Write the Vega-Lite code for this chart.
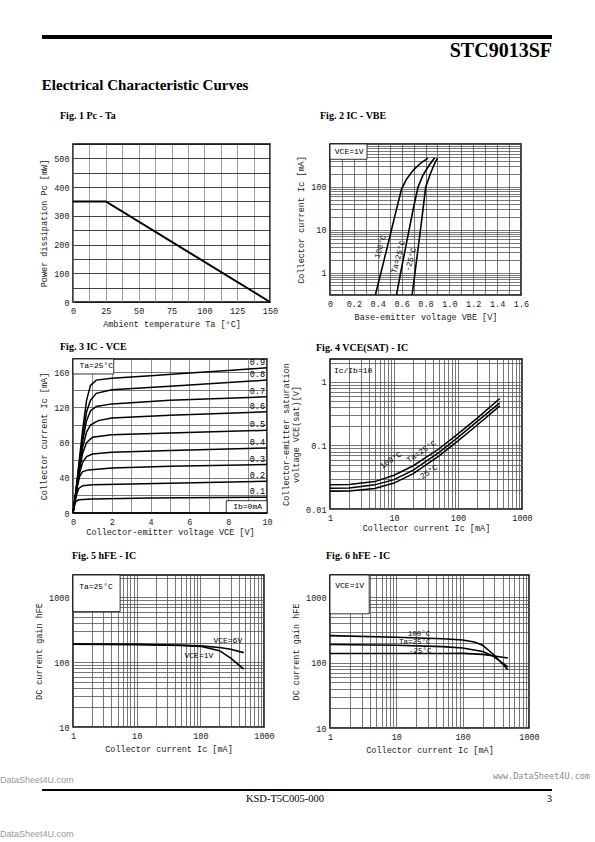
{
  "$schema": "https://vega.github.io/schema/vega-lite/v6.json",
  "background": "white",
  "padding": {"left": 0, "top": 35, "right": 0, "bottom": 0},
  "config": {
    "font": "Liberation Mono",
    "view": {"stroke": "black", "strokeWidth": 1.5},
    "axis": {"domain": false, "ticks": false, "grid": true, "gridColor": "#555", "gridWidth": 0.8, "labelFont": "Liberation Mono", "labelFontSize": 8.5, "labelColor": "#222", "labelPadding": 4, "titleFont": "Liberation Mono", "titleFontSize": 8.5, "titleFontWeight": "normal", "titleColor": "#222", "titlePadding": 5, "labelOverlap": false, "labelFlush": false, "labelBound": false},
    "title": {"font": "Liberation Serif", "fontSize": 10, "fontWeight": "bold", "anchor": "start", "frame": "group", "color": "black"},
    "text": {"font": "Liberation Mono", "fontSize": 8, "color": "black", "baseline": "middle"},
    "line": {"color": "black", "strokeWidth": 1.5}
  },
  "datasets": {
    "rules": [{"id": "header"}, {"id": "footer"}],
    "foot": [
      {"id": "code", "t": "KSD-T5C005-000"},
      {"id": "page", "t": "3"},
      {"id": "wr", "t": "www.DataSheet4U.com"},
      {"id": "wl", "t": "DataSheet4U.com"},
      {"id": "wb", "t": "DataSheet4U.com"}
    ],
    "fig1": [{"ta": 0, "pc": 350}, {"ta": 25, "pc": 350}, {"ta": 150, "pc": 0}],
    "fig2": [
      {"curve": "100°C", "vbe": 0.38, "ic": 0.3}, {"curve": "100°C", "vbe": 0.44, "ic": 1.4}, {"curve": "100°C", "vbe": 0.5, "ic": 6.7}, {"curve": "100°C", "vbe": 0.55, "ic": 25}, {"curve": "100°C", "vbe": 0.6, "ic": 90}, {"curve": "100°C", "vbe": 0.64, "ic": 150}, {"curve": "100°C", "vbe": 0.7, "ic": 250}, {"curve": "100°C", "vbe": 0.76, "ic": 360}, {"curve": "100°C", "vbe": 0.82, "ic": 470},
      {"curve": "25°C", "vbe": 0.557, "ic": 0.3}, {"curve": "25°C", "vbe": 0.6, "ic": 1.3}, {"curve": "25°C", "vbe": 0.65, "ic": 6.6}, {"curve": "25°C", "vbe": 0.7, "ic": 33}, {"curve": "25°C", "vbe": 0.738, "ic": 100}, {"curve": "25°C", "vbe": 0.78, "ic": 190}, {"curve": "25°C", "vbe": 0.83, "ic": 320}, {"curve": "25°C", "vbe": 0.877, "ic": 480},
      {"curve": "-25°C", "vbe": 0.688, "ic": 0.3}, {"curve": "-25°C", "vbe": 0.72, "ic": 1.5}, {"curve": "-25°C", "vbe": 0.76, "ic": 11}, {"curve": "-25°C", "vbe": 0.802, "ic": 100}, {"curve": "-25°C", "vbe": 0.84, "ic": 200}, {"curve": "-25°C", "vbe": 0.87, "ic": 320}, {"curve": "-25°C", "vbe": 0.9, "ic": 470}
    ],
    "lab2": [{"text": "100°C", "vbe": 0.425, "ic": 4}, {"text": "Ta=25°C", "vbe": 0.575, "ic": 2.3}, {"text": "-25°C", "vbe": 0.68, "ic": 2.0}],
    "note2": [{"text": "VCE=1V", "vbe": 0.04, "ic": 640}],
    "box2": [{"vbe": 0, "vbe2": 0.31, "ic": 440, "ic2": 1000}],
    "fig3": [
      {"ib": "0.9", "vce": 0, "ic": 0}, {"ib": "0.9", "vce": 0.15, "ic": 25}, {"ib": "0.9", "vce": 0.3, "ic": 55}, {"ib": "0.9", "vce": 0.5, "ic": 95}, {"ib": "0.9", "vce": 0.7, "ic": 128}, {"ib": "0.9", "vce": 0.9, "ic": 145}, {"ib": "0.9", "vce": 1.2, "ic": 151}, {"ib": "0.9", "vce": 2, "ic": 153}, {"ib": "0.9", "vce": 4, "ic": 156}, {"ib": "0.9", "vce": 6, "ic": 159}, {"ib": "0.9", "vce": 8, "ic": 162}, {"ib": "0.9", "vce": 10, "ic": 165},
      {"ib": "0.8", "vce": 0, "ic": 0}, {"ib": "0.8", "vce": 0.15, "ic": 25}, {"ib": "0.8", "vce": 0.3, "ic": 52}, {"ib": "0.8", "vce": 0.5, "ic": 88}, {"ib": "0.8", "vce": 0.7, "ic": 115}, {"ib": "0.8", "vce": 0.9, "ic": 128}, {"ib": "0.8", "vce": 1.2, "ic": 136}, {"ib": "0.8", "vce": 2, "ic": 140}, {"ib": "0.8", "vce": 5, "ic": 144}, {"ib": "0.8", "vce": 10, "ic": 151},
      {"ib": "0.7", "vce": 0, "ic": 0}, {"ib": "0.7", "vce": 0.15, "ic": 24}, {"ib": "0.7", "vce": 0.3, "ic": 50}, {"ib": "0.7", "vce": 0.5, "ic": 82}, {"ib": "0.7", "vce": 0.7, "ic": 105}, {"ib": "0.7", "vce": 0.9, "ic": 116}, {"ib": "0.7", "vce": 1.2, "ic": 121}, {"ib": "0.7", "vce": 2, "ic": 124}, {"ib": "0.7", "vce": 5, "ic": 128}, {"ib": "0.7", "vce": 10, "ic": 132},
      {"ib": "0.6", "vce": 0, "ic": 0}, {"ib": "0.6", "vce": 0.15, "ic": 23}, {"ib": "0.6", "vce": 0.3, "ic": 48}, {"ib": "0.6", "vce": 0.5, "ic": 75}, {"ib": "0.6", "vce": 0.7, "ic": 92}, {"ib": "0.6", "vce": 0.9, "ic": 100}, {"ib": "0.6", "vce": 1.3, "ic": 105}, {"ib": "0.6", "vce": 2, "ic": 108}, {"ib": "0.6", "vce": 5, "ic": 111}, {"ib": "0.6", "vce": 10, "ic": 115},
      {"ib": "0.5", "vce": 0, "ic": 0}, {"ib": "0.5", "vce": 0.15, "ic": 22}, {"ib": "0.5", "vce": 0.3, "ic": 45}, {"ib": "0.5", "vce": 0.5, "ic": 68}, {"ib": "0.5", "vce": 0.7, "ic": 80}, {"ib": "0.5", "vce": 1.0, "ic": 86}, {"ib": "0.5", "vce": 2, "ic": 89}, {"ib": "0.5", "vce": 5, "ic": 91}, {"ib": "0.5", "vce": 10, "ic": 94},
      {"ib": "0.4", "vce": 0, "ic": 0}, {"ib": "0.4", "vce": 0.15, "ic": 20}, {"ib": "0.4", "vce": 0.3, "ic": 42}, {"ib": "0.4", "vce": 0.5, "ic": 58}, {"ib": "0.4", "vce": 0.7, "ic": 64}, {"ib": "0.4", "vce": 1, "ic": 67}, {"ib": "0.4", "vce": 2, "ic": 69}, {"ib": "0.4", "vce": 5, "ic": 71}, {"ib": "0.4", "vce": 10, "ic": 74},
      {"ib": "0.3", "vce": 0, "ic": 0}, {"ib": "0.3", "vce": 0.1, "ic": 15}, {"ib": "0.3", "vce": 0.2, "ic": 28}, {"ib": "0.3", "vce": 0.35, "ic": 42}, {"ib": "0.3", "vce": 0.5, "ic": 47}, {"ib": "0.3", "vce": 0.8, "ic": 49}, {"ib": "0.3", "vce": 2, "ic": 51}, {"ib": "0.3", "vce": 5, "ic": 53}, {"ib": "0.3", "vce": 10, "ic": 55},
      {"ib": "0.2", "vce": 0, "ic": 0}, {"ib": "0.2", "vce": 0.1, "ic": 12}, {"ib": "0.2", "vce": 0.2, "ic": 22}, {"ib": "0.2", "vce": 0.3, "ic": 28}, {"ib": "0.2", "vce": 0.5, "ic": 31}, {"ib": "0.2", "vce": 1, "ic": 32}, {"ib": "0.2", "vce": 3, "ic": 33}, {"ib": "0.2", "vce": 10, "ic": 36},
      {"ib": "0.1", "vce": 0, "ic": 0}, {"ib": "0.1", "vce": 0.07, "ic": 8}, {"ib": "0.1", "vce": 0.15, "ic": 13}, {"ib": "0.1", "vce": 0.3, "ic": 15}, {"ib": "0.1", "vce": 1, "ic": 16}, {"ib": "0.1", "vce": 4, "ic": 17}, {"ib": "0.1", "vce": 10, "ic": 18},
      {"ib": "0", "vce": 0, "ic": 0}, {"ib": "0", "vce": 10, "ic": 0}
    ],
    "note3": [{"text": "Ta=25°C", "vce": 1.2, "ic": 167}, {"text": "Ib=0mA", "vce": 9.0, "ic": 6.5}],
    "box3": [{"vce": 0, "vce2": 2.1, "ic": 158, "ic2": 175}, {"vce": 7.9, "vce2": 10, "ic": 0, "ic2": 14}],
    "fig4": [
      {"curve": "100°C", "ic": 1, "v": 0.024}, {"curve": "100°C", "ic": 2, "v": 0.0243}, {"curve": "100°C", "ic": 5, "v": 0.027}, {"curve": "100°C", "ic": 10, "v": 0.034}, {"curve": "100°C", "ic": 20, "v": 0.048}, {"curve": "100°C", "ic": 50, "v": 0.088}, {"curve": "100°C", "ic": 100, "v": 0.152}, {"curve": "100°C", "ic": 200, "v": 0.27}, {"curve": "100°C", "ic": 450, "v": 0.55},
      {"curve": "25°C", "ic": 1, "v": 0.0212}, {"curve": "25°C", "ic": 2, "v": 0.0215}, {"curve": "25°C", "ic": 5, "v": 0.024}, {"curve": "25°C", "ic": 10, "v": 0.029}, {"curve": "25°C", "ic": 20, "v": 0.041}, {"curve": "25°C", "ic": 50, "v": 0.077}, {"curve": "25°C", "ic": 100, "v": 0.134}, {"curve": "25°C", "ic": 200, "v": 0.24}, {"curve": "25°C", "ic": 450, "v": 0.47},
      {"curve": "-25°C", "ic": 1, "v": 0.019}, {"curve": "-25°C", "ic": 2, "v": 0.0192}, {"curve": "-25°C", "ic": 5, "v": 0.021}, {"curve": "-25°C", "ic": 10, "v": 0.0256}, {"curve": "-25°C", "ic": 20, "v": 0.036}, {"curve": "-25°C", "ic": 50, "v": 0.068}, {"curve": "-25°C", "ic": 100, "v": 0.118}, {"curve": "-25°C", "ic": 200, "v": 0.21}, {"curve": "-25°C", "ic": 450, "v": 0.42}
    ],
    "lab4": [{"text": "100°C", "ic": 9, "v": 0.058}, {"text": "Ta=25°C", "ic": 27, "v": 0.079}, {"text": "-25°C", "ic": 33, "v": 0.036}],
    "note4": [{"text": "Ic/Ib=10", "ic": 1.15, "v": 1.5}],
    "fig5": [
      {"curve": "VCE=6V", "ic": 1, "hfe": 190}, {"curve": "VCE=6V", "ic": 10, "hfe": 188}, {"curve": "VCE=6V", "ic": 50, "hfe": 182}, {"curve": "VCE=6V", "ic": 100, "hfe": 178}, {"curve": "VCE=6V", "ic": 200, "hfe": 168}, {"curve": "VCE=6V", "ic": 300, "hfe": 158}, {"curve": "VCE=6V", "ic": 480, "hfe": 140},
      {"curve": "VCE=1V", "ic": 1, "hfe": 188}, {"curve": "VCE=1V", "ic": 10, "hfe": 186}, {"curve": "VCE=1V", "ic": 50, "hfe": 181}, {"curve": "VCE=1V", "ic": 100, "hfe": 175}, {"curve": "VCE=1V", "ic": 200, "hfe": 150}, {"curve": "VCE=1V", "ic": 300, "hfe": 115}, {"curve": "VCE=1V", "ic": 480, "hfe": 78}
    ],
    "lab5": [{"text": "VCE=6V", "ic": 270, "hfe": 212}, {"text": "VCE=1V", "ic": 95, "hfe": 124}],
    "note5": [{"text": "Ta=25°C", "ic": 1.25, "hfe": 1450}],
    "box5": [{"ic": 1, "ic2": 5.5, "hfe": 600, "hfe2": 2200}],
    "fig6": [
      {"curve": "100°C", "ic": 1, "hfe": 260}, {"curve": "100°C", "ic": 10, "hfe": 245}, {"curve": "100°C", "ic": 50, "hfe": 232}, {"curve": "100°C", "ic": 100, "hfe": 222}, {"curve": "100°C", "ic": 150, "hfe": 208}, {"curve": "100°C", "ic": 200, "hfe": 185}, {"curve": "100°C", "ic": 300, "hfe": 130}, {"curve": "100°C", "ic": 480, "hfe": 78},
      {"curve": "25°C", "ic": 1, "hfe": 190}, {"curve": "25°C", "ic": 10, "hfe": 185}, {"curve": "25°C", "ic": 50, "hfe": 176}, {"curve": "25°C", "ic": 100, "hfe": 168}, {"curve": "25°C", "ic": 200, "hfe": 148}, {"curve": "25°C", "ic": 280, "hfe": 128}, {"curve": "25°C", "ic": 480, "hfe": 86},
      {"curve": "-25°C", "ic": 1, "hfe": 138}, {"curve": "-25°C", "ic": 10, "hfe": 138}, {"curve": "-25°C", "ic": 50, "hfe": 138}, {"curve": "-25°C", "ic": 100, "hfe": 139}, {"curve": "-25°C", "ic": 200, "hfe": 134}, {"curve": "-25°C", "ic": 280, "hfe": 128}, {"curve": "-25°C", "ic": 480, "hfe": 118}
    ],
    "lab6": [{"text": "100°C", "ic": 22, "hfe": 276}, {"text": "Ta=25°C", "ic": 19, "hfe": 206}, {"text": "-25°C", "ic": 23, "hfe": 152}],
    "note6": [{"text": "VCE=1V", "ic": 1.2, "hfe": 1480}],
    "box6": [{"ic": 1, "ic2": 3.9, "hfe": 560, "hfe2": 2200}]
  },
  "spacing": 17,
  "vconcat": [
    {
      "width": 479, "height": 4,
      "view": {"stroke": null},
      "title": {"text": "STC9013SF", "orient": "bottom", "anchor": "end", "frame": "group", "font": "Liberation Serif", "fontSize": 20, "fontWeight": "bold", "offset": 2},
      "data": {"name": "rules"},
      "transform": [{"filter": "datum.id == 'header'"}],
      "mark": {"type": "rect", "color": "black"},
      "encoding": {
        "x": {"datum": -0.0647, "type": "quantitative", "scale": {"domain": [0, 1], "nice": false, "zero": false}, "axis": null},
        "x2": {"datum": 1}
      }
    },
    {
      "title": {"text": "Electrical Characteristic Curves", "anchor": "start", "frame": "bounds", "font": "Liberation Serif", "fontSize": 15, "fontWeight": "bold", "offset": 17, "dx": 8},
      "columns": 2,
      "spacing": {"row": 12, "column": 1},
      "concat": [
        {
          "width": 197, "height": 158,
          "title": {"text": "Fig. 1 Pc - Ta", "dx": -13, "offset": 19},
          "data": {"name": "fig1"},
          "mark": {"type": "line", "strokeWidth": 2, "color": "black"},
          "encoding": {
            "x": {"field": "ta", "type": "quantitative", "scale": {"domain": [0, 150], "nice": false}, "axis": {"title": "Ambient temperature Ta [°C]", "values": [0, 12.5, 25, 37.5, 50, 62.5, 75, 87.5, 100, 112.5, 125, 137.5, 150], "labelExpr": "datum.value % 25 == 0 ? datum.label : ''", "gridColor": "#888"}},
            "y": {"field": "pc", "type": "quantitative", "scale": {"domain": [0, 550], "nice": false}, "axis": {"title": "Power dissipation Pc [mW]", "values": [0, 50, 100, 150, 200, 250, 300, 350, 400, 450, 500, 550], "labelExpr": "datum.value % 100 == 0 ? datum.label : ''", "gridColor": "#111"}}
          }
        },
        {
          "width": 191, "height": 151,
          "title": {"text": "Fig. 2 IC - VBE", "dx": -10, "offset": 19},
          "encoding": {
            "x": {"field": "vbe", "type": "quantitative", "scale": {"domain": [0, 1.6], "nice": false}, "axis": {"title": "Base-emitter voltage VBE [V]", "values": [0, 0.1, 0.2, 0.3, 0.4, 0.5, 0.6, 0.7, 0.8, 0.9, 1.0, 1.1, 1.2, 1.3, 1.4, 1.5, 1.6], "labelExpr": "round(datum.value * 10) % 2 == 0 ? (datum.value == 0 ? '0' : format(datum.value, '.1f')) : ''"}},
            "y": {"field": "ic", "type": "quantitative", "scale": {"type": "log", "domain": [0.3, 1000], "nice": false}, "axis": {"title": "Collector current Ic [mA]", "values": [0.3, 0.4, 0.5, 0.6, 0.7, 0.8, 0.9, 1, 2, 3, 4, 5, 6, 7, 8, 9, 10, 20, 30, 40, 50, 60, 70, 80, 90, 100, 200, 300, 400, 500, 600, 700, 800, 900, 1000], "labelExpr": "datum.value == 1 || datum.value == 10 || datum.value == 100 ? format(datum.value, 'd') : ''"}}
          },
          "layer": [
            {"data": {"name": "box2"}, "mark": {"type": "rect", "fill": "white", "stroke": "black", "strokeWidth": 0.8}, "encoding": {"x2": {"field": "vbe2"}, "y2": {"field": "ic2"}}},
            {"data": {"name": "fig2"}, "mark": {"type": "line", "strokeWidth": 1.6, "color": "black"}, "encoding": {"detail": {"field": "curve"}}},
            {"data": {"name": "lab2"}, "mark": {"type": "text", "angle": -74, "align": "center"}, "encoding": {"text": {"field": "text"}}},
            {"data": {"name": "note2"}, "mark": {"type": "text", "align": "left"}, "encoding": {"text": {"field": "text"}}}
          ]
        },
        {
          "width": 194, "height": 154,
          "title": {"text": "Fig. 3 IC - VCE", "dx": -13, "offset": 6},
          "encoding": {
            "x": {"field": "vce", "type": "quantitative", "scale": {"domain": [0, 10], "nice": false}, "axis": {"title": "Collector-emitter voltage VCE [V]", "titlePadding": 2, "values": [0, 1, 2, 3, 4, 5, 6, 7, 8, 9, 10], "labelExpr": "datum.value % 2 == 0 ? datum.label : ''", "gridColor": "#777"}},
            "y": {"field": "ic", "type": "quantitative", "scale": {"domain": [0, 175], "nice": false}, "axis": {"title": "Collector current Ic [mA]", "values": [0, 20, 40, 60, 80, 100, 120, 140, 160], "labelExpr": "datum.value % 40 == 0 ? datum.label : ''"}}
          },
          "layer": [
            {"data": {"name": "box3"}, "mark": {"type": "rect", "fill": "white", "stroke": "black", "strokeWidth": 0.8}, "encoding": {"x2": {"field": "vce2"}, "y2": {"field": "ic2"}}},
            {"data": {"name": "fig3"}, "mark": {"type": "line", "strokeWidth": 1.5, "color": "black"}, "encoding": {"detail": {"field": "ib"}}},
            {"data": {"name": "fig3"}, "transform": [{"filter": "datum.vce == 10 && datum.ib != '0'"}], "mark": {"type": "text", "align": "right", "dx": -2, "dy": -6, "fontSize": 8.5}, "encoding": {"text": {"field": "ib"}}},
            {"data": {"name": "note3"}, "mark": {"type": "text", "align": "center"}, "encoding": {"text": {"field": "text"}}}
          ]
        },
        {
          "width": 192, "height": 150,
          "title": {"text": "Fig. 4 VCE(SAT) - IC", "dx": -14, "offset": 6},
          "encoding": {
            "x": {"field": "ic", "type": "quantitative", "scale": {"type": "log", "domain": [1, 1000], "nice": false}, "axis": {"title": "Collector current Ic [mA]", "titlePadding": 2, "values": [1, 2, 3, 4, 5, 6, 7, 8, 9, 10, 20, 30, 40, 50, 60, 70, 80, 90, 100, 200, 300, 400, 500, 600, 700, 800, 900, 1000], "labelExpr": "datum.value == 1 || datum.value == 10 || datum.value == 100 || datum.value == 1000 ? format(datum.value, 'd') : ''"}},
            "y": {"field": "v", "type": "quantitative", "scale": {"type": "log", "domain": [0.01, 2.3], "nice": false}, "axis": {"title": ["Collector-emitter saturation", "voltage VCE(sat)[V]"], "values": [0.01, 0.02, 0.03, 0.04, 0.05, 0.06, 0.07, 0.08, 0.09, 0.1, 0.2, 0.3, 0.4, 0.5, 0.6, 0.7, 0.8, 0.9, 1, 2], "labelExpr": "datum.value == 0.01 ? '0.01' : datum.value == 0.1 ? '0.1' : datum.value == 1 ? '1' : ''"}}
          },
          "layer": [
            {"data": {"name": "fig4"}, "mark": {"type": "line", "strokeWidth": 1.5, "color": "black"}, "encoding": {"detail": {"field": "curve"}}},
            {"data": {"name": "lab4"}, "mark": {"type": "text", "angle": -34, "align": "center"}, "encoding": {"text": {"field": "text"}}},
            {"data": {"name": "note4"}, "mark": {"type": "text", "align": "left"}, "encoding": {"text": {"field": "text"}}}
          ]
        },
        {
          "width": 191, "height": 152,
          "title": {"text": "Fig. 5 hFE - IC", "dx": -1, "offset": 13},
          "encoding": {
            "x": {"field": "ic", "type": "quantitative", "scale": {"type": "log", "domain": [1, 1000], "nice": false}, "axis": {"title": "Collector current Ic [mA]", "values": [1, 2, 3, 4, 5, 6, 7, 8, 9, 10, 20, 30, 40, 50, 60, 70, 80, 90, 100, 200, 300, 400, 500, 600, 700, 800, 900, 1000], "labelExpr": "datum.value == 1 || datum.value == 10 || datum.value == 100 || datum.value == 1000 ? format(datum.value, 'd') : ''"}},
            "y": {"field": "hfe", "type": "quantitative", "scale": {"type": "log", "domain": [10, 2200], "nice": false}, "axis": {"title": "DC current gain hFE", "values": [10, 20, 30, 40, 50, 60, 70, 80, 90, 100, 200, 300, 400, 500, 600, 700, 800, 900, 1000, 2000], "labelExpr": "datum.value == 10 || datum.value == 100 || datum.value == 1000 ? format(datum.value, 'd') : ''"}}
          },
          "layer": [
            {"data": {"name": "box5"}, "mark": {"type": "rect", "fill": "white", "stroke": "black", "strokeWidth": 0.8}, "encoding": {"x2": {"field": "ic2"}, "y2": {"field": "hfe2"}}},
            {"data": {"name": "fig5"}, "mark": {"type": "line", "strokeWidth": 1.6, "color": "black"}, "encoding": {"detail": {"field": "curve"}}},
            {"data": {"name": "lab5"}, "mark": {"type": "text", "align": "center"}, "encoding": {"text": {"field": "text"}}},
            {"data": {"name": "note5"}, "mark": {"type": "text", "align": "left"}, "encoding": {"text": {"field": "text"}}}
          ]
        },
        {
          "width": 199, "height": 153,
          "title": {"text": "Fig. 6 hFE  -  IC", "dx": -4, "offset": 13},
          "encoding": {
            "x": {"field": "ic", "type": "quantitative", "scale": {"type": "log", "domain": [1, 1000], "nice": false}, "axis": {"title": "Collector current Ic [mA]", "values": [1, 2, 3, 4, 5, 6, 7, 8, 9, 10, 20, 30, 40, 50, 60, 70, 80, 90, 100, 200, 300, 400, 500, 600, 700, 800, 900, 1000], "labelExpr": "datum.value == 1 || datum.value == 10 || datum.value == 100 || datum.value == 1000 ? format(datum.value, 'd') : ''"}},
            "y": {"field": "hfe", "type": "quantitative", "scale": {"type": "log", "domain": [10, 2200], "nice": false}, "axis": {"title": "DC current gain hFE", "values": [10, 20, 30, 40, 50, 60, 70, 80, 90, 100, 200, 300, 400, 500, 600, 700, 800, 900, 1000, 2000], "labelExpr": "datum.value == 10 || datum.value == 100 || datum.value == 1000 ? format(datum.value, 'd') : ''"}}
          },
          "layer": [
            {"data": {"name": "box6"}, "mark": {"type": "rect", "fill": "white", "stroke": "black", "strokeWidth": 0.8}, "encoding": {"x2": {"field": "ic2"}, "y2": {"field": "hfe2"}}},
            {"data": {"name": "fig6"}, "mark": {"type": "line", "strokeWidth": 1.6, "color": "black"}, "encoding": {"detail": {"field": "curve"}}},
            {"data": {"name": "lab6"}, "mark": {"type": "text", "align": "center", "fontSize": 7.5}, "encoding": {"text": {"field": "text"}}},
            {"data": {"name": "note6"}, "mark": {"type": "text", "align": "left"}, "encoding": {"text": {"field": "text"}}}
          ]
        }
      ]
    },
    {
      "width": 479, "height": 2,
      "view": {"stroke": null},
      "encoding": {
        "x": {"datum": 0.4426, "type": "quantitative", "scale": {"domain": [0, 1], "nice": false, "zero": false}, "axis": null}
      },
      "layer": [
        {"data": {"name": "rules"}, "transform": [{"filter": "datum.id == 'footer'"}], "mark": {"type": "rect", "color": "black"}, "encoding": {"x": {"datum": -0.0647, "type": "quantitative"}, "x2": {"datum": 1}}},
        {"data": {"name": "foot"}, "transform": [{"filter": "datum.id == 'code'"}], "mark": {"type": "text", "font": "Liberation Serif", "fontSize": 10.5, "align": "center", "dy": 9}, "encoding": {"text": {"field": "t"}}},
        {"data": {"name": "foot"}, "transform": [{"filter": "datum.id == 'page'"}], "mark": {"type": "text", "font": "Liberation Serif", "fontSize": 10.5, "align": "right", "dy": 9}, "encoding": {"x": {"datum": 1, "type": "quantitative"}, "text": {"field": "t"}}},
        {"data": {"name": "foot"}, "transform": [{"filter": "datum.id == 'wr'"}], "mark": {"type": "text", "font": "DejaVu Sans Mono", "fontSize": 8.5, "color": "#8a8a8a", "align": "right", "dy": -14}, "encoding": {"x": {"datum": 1.0793, "type": "quantitative"}, "text": {"field": "t"}}},
        {"data": {"name": "foot"}, "transform": [{"filter": "datum.id == 'wl'"}], "mark": {"type": "text", "font": "Liberation Sans", "fontSize": 9, "color": "#9a9a9a", "align": "left", "dy": -10}, "encoding": {"x": {"datum": -0.1524, "type": "quantitative"}, "text": {"field": "t"}}},
        {"data": {"name": "foot"}, "transform": [{"filter": "datum.id == 'wb'"}], "mark": {"type": "text", "font": "Liberation Sans", "fontSize": 9, "color": "#9a9a9a", "align": "left", "dy": 44}, "encoding": {"x": {"datum": -0.1524, "type": "quantitative"}, "text": {"field": "t"}}}
      ]
    }
  ]
}
